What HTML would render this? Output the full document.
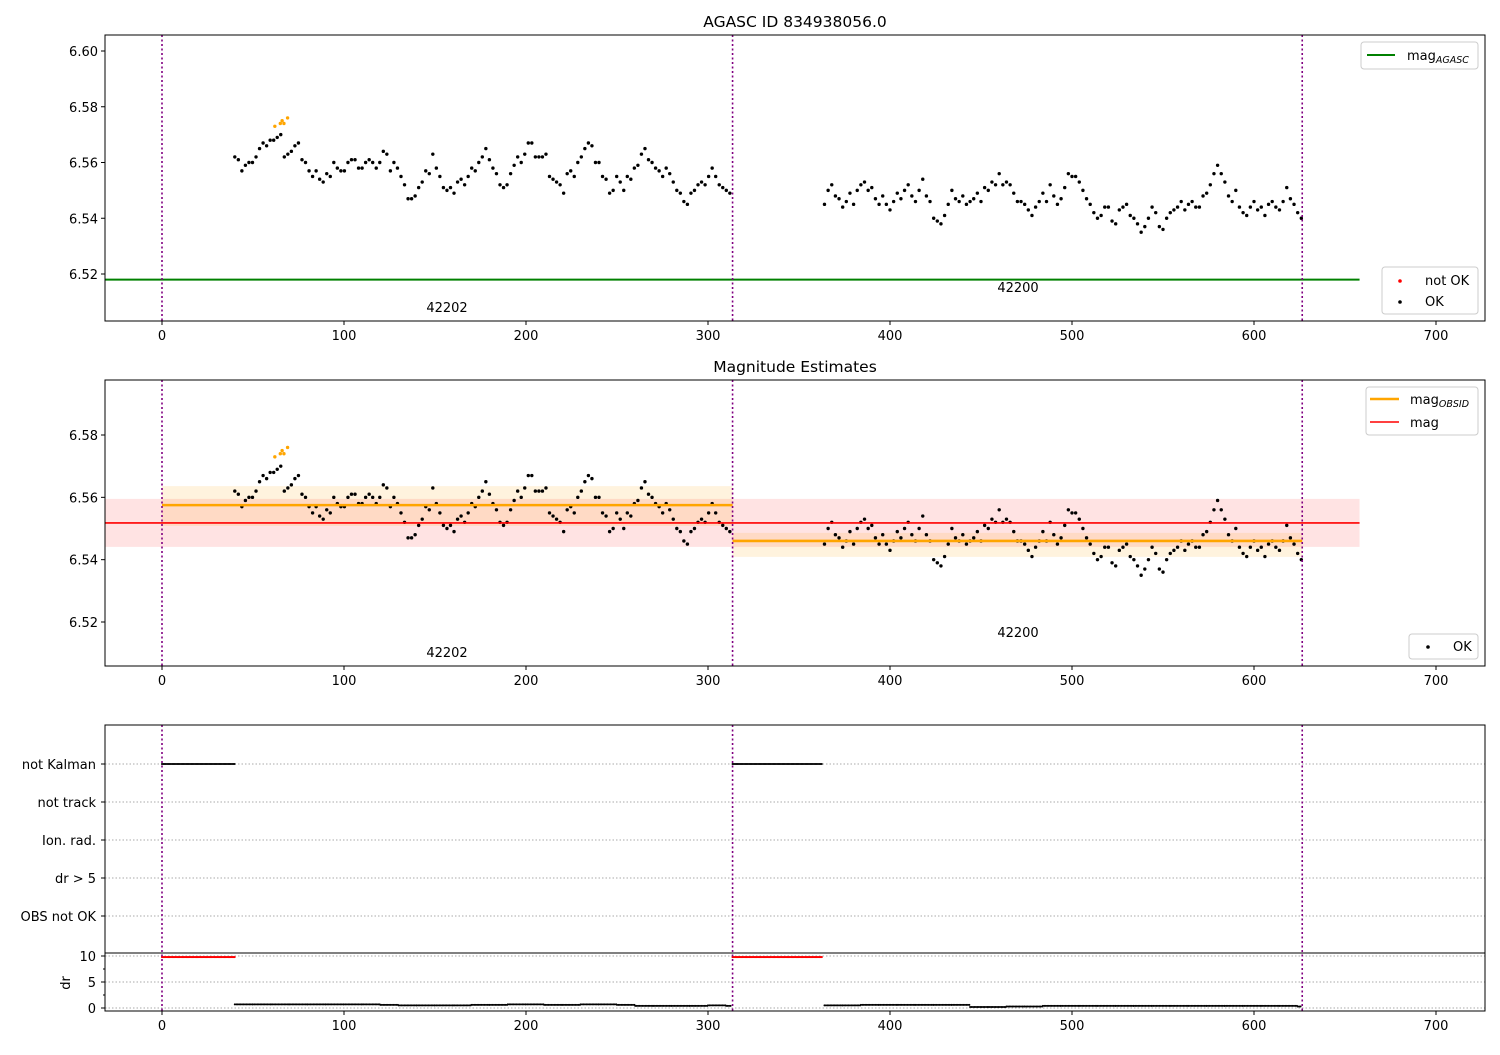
<!DOCTYPE html>
<html><head><meta charset="utf-8"><style>
body{margin:0;background:#fff}
svg text{font-family:"DejaVu Sans","Liberation Sans",sans-serif;fill:#000}
</style></head><body>
<svg id="fig" width="1500" height="1050" xmlns="http://www.w3.org/2000/svg"></svg>
<script>
// ---- data ----
const seg1Start = 40, seg1End = 312;
const seg1Mag = [6.562,6.561,6.557,6.559,6.560,6.560,6.562,6.565,6.567,6.566,6.568,6.568,6.569,6.570,6.562,6.563,6.564,6.566,6.567,
6.561,6.560,6.557,6.555,6.557,6.554,6.553,6.556,6.555,6.560,6.558,6.557,6.557,6.560,6.561,6.561,
6.558,6.558,6.560,6.561,6.560,6.558,6.560,6.564,6.563,6.557,6.560,6.558,6.555,6.552,6.547,
6.547,6.548,6.551,6.553,6.557,6.556,6.563,6.558,6.555,6.551,6.550,6.551,6.549,6.553,6.554,6.552,
6.555,6.558,6.557,6.560,6.562,6.565,6.561,6.558,6.556,6.552,6.551,6.552,6.556,6.559,6.562,6.560,
6.563,6.567,6.567,6.562,6.562,6.562,6.563,6.555,6.554,6.553,6.552,6.549,6.556,6.557,6.555,6.560,
6.562,6.565,6.567,6.566,6.560,6.560,6.555,6.554,6.549,6.550,6.555,6.553,6.550,6.555,6.554,6.558,
6.559,6.563,6.565,6.561,6.560,6.558,6.557,6.555,6.558,6.556,6.553,6.550,6.549,6.546,6.545,6.549,
6.550,6.552,6.553,6.552,6.555,6.558,6.555,6.552,6.551,6.550,6.549];
const seg2Start = 364, seg2End = 626;
const seg2Mag = [6.545,6.550,6.552,6.548,6.547,6.544,6.546,6.549,6.545,
6.550,6.552,6.553,6.550,6.551,6.547,6.545,6.548,6.545,6.543,
6.546,6.549,6.547,6.550,6.552,6.548,6.546,6.550,6.554,6.548,
6.546,6.540,6.539,6.538,6.541,6.545,6.550,6.547,6.546,6.548,
6.545,6.546,6.547,6.549,6.546,6.551,6.550,6.553,6.552,6.556,
6.552,6.553,6.552,6.549,6.546,6.546,6.545,6.543,6.541,6.544,
6.546,6.549,6.546,6.552,6.548,6.545,6.547,6.551,6.556,6.555,
6.555,6.553,6.550,6.547,6.545,6.542,6.540,6.541,6.544,6.544,
6.539,6.538,6.543,6.544,6.545,6.541,6.540,6.538,6.535,6.537,
6.540,6.544,6.542,6.537,6.536,6.540,6.542,6.543,6.544,6.546,
6.543,6.545,6.546,6.544,6.544,6.548,6.549,6.552,6.556,6.559,
6.556,6.553,6.548,6.546,6.550,6.544,6.542,6.541,6.544,6.546,
6.543,6.544,6.541,6.545,6.546,6.544,6.543,6.546,6.551,6.547,6.545,6.542,6.540];
const orangeT = [62,65,66,67,69];
const orangeMag = [6.573,6.574,6.575,6.574,6.576];
const obsBounds = [0, 313.5, 626.5];
const obsIds = ["42202","42200"];
const obsMag = [6.5575, 6.546];
const obsLo = [6.5508, 6.5409];
const obsHi = [6.5636, 6.5486];
const magAgasc = 6.518;
const magAll = 6.5518, magLo = 6.5441, magHi = 6.5595;
const notKalmanRanges = [[0,40],[313.5,363]];
const drStart1 = 40, drStart2 = 364, drStep = 10;
const dr1 = [0.7,0.7,0.7,0.7,0.7,0.7,0.7,0.7,0.6,0.5,0.5,0.5,0.5,0.6,0.6,0.7,0.7,0.6,0.6,0.7,0.7,0.6,0.4,0.4,0.4,0.4,0.5,0.4];
const dr2 = [0.5,0.5,0.6,0.6,0.6,0.6,0.6,0.6,0.2,0.2,0.3,0.3,0.4,0.4,0.4,0.4,0.4,0.4,0.4,0.4,0.4,0.4,0.4,0.4,0.4,0.4,0.3];
const xTicks = [0,100,200,300,400,500,600,700];
const y1Ticks = [6.52,6.54,6.56,6.58,6.60];
const y2Ticks = [6.52,6.54,6.56,6.58];
const flagLabels = ["not Kalman","not track","Ion. rad.","dr > 5","OBS not OK"];
const drTicks = [0,5,10];

// ---- helpers ----
const svg = document.getElementById('fig');
const NS = 'http://www.w3.org/2000/svg';
function mk(tag, attrs, parent, txt){const e=document.createElementNS(NS,tag);for(const k in attrs)e.setAttribute(k,attrs[k]);if(txt!==undefined)e.textContent=txt;(parent||svg).appendChild(e);return e;}
const L=105,R=1485;
const xs = t => 162 + t*1.82;
const p1 = {top:35,bot:321, y: v => 51 + (6.60-v)*2787.5};
const p2 = {top:380,bot:666, y: v => 435 + (6.58-v)*3116.7};
const catY = i => 764 + i*38;
const drY = v => 1008 - v*5.2;

function allPoints(){const pts=[];
const s1=(seg1End-seg1Start)/(seg1Mag.length-1), s2=(seg2End-seg2Start)/(seg2Mag.length-1);
seg1Mag.forEach((m,i)=>pts.push([seg1Start+i*s1,m]));seg2Mag.forEach((m,i)=>pts.push([seg2Start+i*s2,m]));return pts;}

function xAxis(bot,g){xTicks.forEach(t=>{mk('line',{x1:xs(t),x2:xs(t),y1:bot,y2:bot+4,stroke:'#000'},g);const tx=mk('text',{x:xs(t),y:bot+19,'text-anchor':'middle','font-size':13},g,String(t));});}
function vlines(top,bot,g){obsBounds.forEach(t=>mk('line',{x1:xs(t),x2:xs(t),y1:top,y2:bot,stroke:'#800080','stroke-width':1.6,'stroke-dasharray':'2,2.5'},g));}

// ---- panel 1 ----
mk('text',{x:795,y:27,'text-anchor':'middle','font-size':15.5,},svg,'AGASC ID 834938056.0');
const g1=mk('g',{});
mk('line',{x1:L,x2:xs(658),y1:p1.y(magAgasc),y2:p1.y(magAgasc),stroke:'#008000','stroke-width':2,},g1);
allPoints().forEach(([t,m])=>{const c=mk('circle',{cx:xs(t),cy:p1.y(m),r:1.7,fill:'#000'},g1);});
orangeT.forEach((t,i)=>{const c=mk('circle',{cx:xs(t),cy:p1.y(orangeMag[i]),r:1.7,fill:'orange'},g1);});
vlines(p1.top,p1.bot,g1);
mk('text',{x:447,y:312,'text-anchor':'middle','font-size':13,},g1,obsIds[0]);
mk('text',{x:1018,y:292,'text-anchor':'middle','font-size':13,},g1,obsIds[1]);
mk('rect',{x:L,y:p1.top,width:R-L,height:p1.bot-p1.top,fill:'none',stroke:'#000','stroke-width':1},g1);
y1Ticks.forEach(v=>{mk('line',{x1:L-4,x2:L,y1:p1.y(v),y2:p1.y(v),stroke:'#000'},g1);const tx=mk('text',{x:L-7,y:p1.y(v)+5,'text-anchor':'end','font-size':13},g1,v.toFixed(2));});
xAxis(p1.bot,g1);
// legends
const lg1=mk('g',{});
mk('rect',{x:1361,y:42,width:117,height:27,rx:3,fill:'#fff',stroke:'#ccc'},lg1);
mk('line',{x1:1367,x2:1395,y1:55,y2:55,stroke:'#008000','stroke-width':2},lg1);
const t1=mk('text',{x:1407,y:60,'font-size':13},lg1,'mag');mk('tspan',{'font-size':9.5,'font-style':'italic',dy:3},t1,'AGASC');
const lg2=mk('g',{});
mk('rect',{x:1382,y:267,width:96,height:47,rx:3,fill:'#fff',stroke:'#ccc'},lg2);
mk('circle',{cx:1400,cy:281,r:1.8,fill:'red'},lg2);mk('text',{x:1425,y:285,'font-size':13},lg2,'not OK');
mk('circle',{cx:1400,cy:302,r:1.8,fill:'#000'},lg2);mk('text',{x:1425,y:306,'font-size':13},lg2,'OK');

// ---- panel 2 ----
mk('text',{x:795,y:372,'text-anchor':'middle','font-size':15.5,},svg,'Magnitude Estimates');
const g2=mk('g',{});
mk('rect',{x:L,y:p2.y(magHi),width:xs(658)-L,height:p2.y(magLo)-p2.y(magHi),fill:'rgba(255,0,0,0.11)'},g2);
for(let i=0;i<2;i++){mk('rect',{x:xs(obsBounds[i]),y:p2.y(obsHi[i]),width:xs(obsBounds[i+1])-xs(obsBounds[i]),height:p2.y(obsLo[i])-p2.y(obsHi[i]),fill:'rgba(255,165,0,0.13)'},g2);}
allPoints().forEach(([t,m])=>{const c=mk('circle',{cx:xs(t),cy:p2.y(m),r:1.7,fill:'#000'},g2);});
orangeT.forEach((t,i)=>{const c=mk('circle',{cx:xs(t),cy:p2.y(orangeMag[i]),r:1.7,fill:'orange'},g2);});
mk('line',{x1:L,x2:xs(658),y1:p2.y(magAll),y2:p2.y(magAll),stroke:'red','stroke-width':1.6,},g2);
for(let i=0;i<2;i++){const l=mk('line',{x1:xs(obsBounds[i]),x2:xs(obsBounds[i+1]),y1:p2.y(obsMag[i]),y2:p2.y(obsMag[i]),stroke:'orange','stroke-width':2.6},g2);}
vlines(p2.top,p2.bot,g2);
mk('text',{x:447,y:657,'text-anchor':'middle','font-size':13,},g2,obsIds[0]);
mk('text',{x:1018,y:637,'text-anchor':'middle','font-size':13,},g2,obsIds[1]);
mk('rect',{x:L,y:p2.top,width:R-L,height:p2.bot-p2.top,fill:'none',stroke:'#000'},g2);
y2Ticks.forEach(v=>{mk('line',{x1:L-4,x2:L,y1:p2.y(v),y2:p2.y(v),stroke:'#000'},g2);const tx=mk('text',{x:L-7,y:p2.y(v)+5,'text-anchor':'end','font-size':13},g2,v.toFixed(2));});
xAxis(p2.bot,g2);
const lg3=mk('g',{});
mk('rect',{x:1366,y:387,width:112,height:48,rx:3,fill:'#fff',stroke:'#ccc'},lg3);
mk('line',{x1:1370,x2:1399,y1:399,y2:399,stroke:'orange','stroke-width':2.6},lg3);
const t3=mk('text',{x:1410,y:404,'font-size':13},lg3,'mag');mk('tspan',{'font-size':9.5,'font-style':'italic',dy:3},t3,'OBSID');
mk('line',{x1:1370,x2:1399,y1:422,y2:422,stroke:'red','stroke-width':1.6},lg3);
mk('text',{x:1410,y:427,'font-size':13},lg3,'mag');
const lg4=mk('g',{});
mk('rect',{x:1409,y:634,width:69,height:25,rx:3,fill:'#fff',stroke:'#ccc'},lg4);
mk('circle',{cx:1428,cy:647,r:1.8,fill:'#000'},lg4);mk('text',{x:1453,y:651,'font-size':13},lg4,'OK');

// ---- panel 3 ----
const g3=mk('g',{});
flagLabels.forEach((lab,i)=>{mk('line',{x1:L,x2:R,y1:catY(i),y2:catY(i),stroke:'#aaa','stroke-dasharray':'1.5,2'},g3);mk('line',{x1:L-4,x2:L,y1:catY(i),y2:catY(i),stroke:'#000'},g3);const tx=mk('text',{x:L-9,y:catY(i)+5,'text-anchor':'end','font-size':13},g3,lab);});
notKalmanRanges.forEach(([a,b])=>{for(let t=a;t<=b;t+=0.7){const c=mk('circle',{cx:xs(t),cy:catY(0),r:1,fill:'#000'},g3);}});
drTicks.forEach(v=>{mk('line',{x1:L,x2:R,y1:drY(v),y2:drY(v),stroke:'#aaa','stroke-dasharray':'1.5,2'},g3);mk('line',{x1:L-4,x2:L,y1:drY(v),y2:drY(v),stroke:'#000'},g3);const tx=mk('text',{x:L-9,y:drY(v)+5,'text-anchor':'end','font-size':13},g3,String(v));});
[2.5,7.5].forEach(v=>mk('line',{x1:L-2,x2:L,y1:drY(v),y2:drY(v),stroke:'#000'},g3));
notKalmanRanges.forEach(([a,b])=>{for(let t=a;t<=b;t+=0.7){const c=mk('circle',{cx:xs(t),cy:drY(9.8),r:1.1,fill:'red'},g3);}});
[[drStart1,dr1,313],[drStart2,dr2,626]].forEach(([s,arr,end])=>{arr.forEach((v,i)=>{for(let k=0;k<10;k+=0.8){const t=s+i*drStep+k;if(t>end)break;const c=mk('circle',{cx:xs(t),cy:drY(v),r:1,fill:'#000'},g3);}});});
vlines(725,1011,g3);
mk('rect',{x:L,y:725,width:R-L,height:286,fill:'none',stroke:'#000'},g3);
mk('line',{x1:L,x2:R,y1:953,y2:953,stroke:'#000'},g3);
xAxis(1011,g3);
mk('text',{x:0,y:0,'font-size':13,'text-anchor':'middle',transform:'translate(70,983) rotate(-90)',},g3,'dr');
</script>
</body></html>
